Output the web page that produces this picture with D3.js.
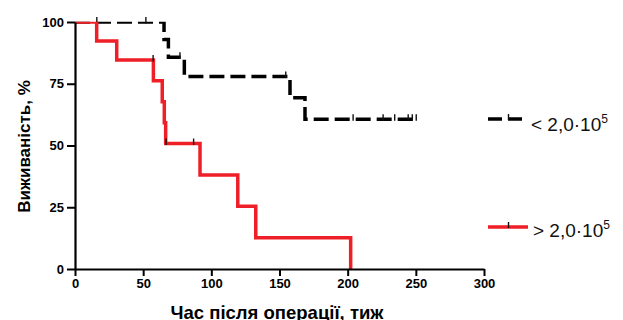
<!DOCTYPE html>
<html>
<head>
<meta charset="utf-8">
<script src="https://cdn.jsdelivr.net/npm/d3@7"></script>
<style>
  html, body { margin: 0; padding: 0; background: #fff; }
  svg { display: block; font-family: Arial, "Liberation Sans", sans-serif; }
</style>
</head>
<body>
<svg id="viz" width="623" height="320"></svg>
<script>
// Kaplan-Meier steps (weeks, % surviving)
const lowTimes = [0, 65.3, 68.5, 80.2, 157.7, 168.7, 250.5];
const lowSurv = [100, 92.9, 85.7, 77.9, 69.3, 60.6, 60.6];
const lowCensor = [16, 52, 77, 154.6, 204, 226, 234.5, 244.4, 247.4, 250.3];

const highTimes = [0, 15.9, 30.6, 57.5, 64, 65.5, 66.5, 91.7, 119.4, 132.6, 202.2];
const highSurv = [100, 92.3, 84.6, 76.2, 67.7, 59.2, 50.8, 38.1, 25.4, 12.7, 0];
const highCensor = [57.3, 66.8, 87];

const xTicks = [0, 50, 100, 150, 200, 250, 300];
const yTicks = [0, 25, 50, 75, 100];

const seriesLabels = ["< 2,0\u00b710", "> 2,0\u00b710"];
const RED = "#ee1f26";

const svg = d3.select("#viz");

const x = d3.scaleLinear().domain([0, 300]).range([75, 484]);
const y = d3.scaleLinear().domain([0, 100]).range([269, 22]);

// clip the curves at the plot top, like the original
svg.append("clipPath").attr("id", "plot")
    .append("rect")
    .attr("x", x(0)).attr("y", y(100) - 0.3)
    .attr("width", 420).attr("height", 260);

const stepLine = d3.line()
    .x(d => x(d[0]))
    .y(d => y(d[1]))
    .curve(d3.curveStepAfter);

const levelAt = (times, surv, t) => {
    let v = surv[0];
    times.forEach((tt, i) => { if (tt <= t) v = surv[i]; });
    return v;
};

const drawCurve = (times, surv, censor, color, dash) => {
    svg.append("path")
        .datum(times.map((t, i) => [t, surv[i]]))
        .attr("clip-path", "url(#plot)")
        .attr("d", stepLine)
        .attr("fill", "none")
        .attr("stroke", color)
        .attr("stroke-width", 3.5)
        .attr("stroke-dasharray", dash);

    svg.append("g").selectAll("line")
        .data(censor)
        .join("line")
        .attr("x1", d => x(d)).attr("x2", d => x(d))
        .attr("y1", d => y(levelAt(times, surv, d)) - 5)
        .attr("y2", d => y(levelAt(times, surv, d)) + 1.5)
        .attr("stroke", "#111")
        .attr("stroke-width", 1.4);
};

drawCurve(lowTimes, lowSurv, lowCensor, "#000", "15,6");
drawCurve(highTimes, highSurv, highCensor, RED, null);

// axes
const xAxis = svg.append("g")
    .attr("transform", `translate(0,${y(0)})`)
    .call(d3.axisBottom(x).tickValues(xTicks).tickSize(7).tickPadding(3).tickSizeOuter(0));
const yAxis = svg.append("g")
    .attr("transform", `translate(${x(0)},0)`)
    .call(d3.axisLeft(y).tickValues(yTicks).tickSize(8).tickPadding(3).tickSizeOuter(0));

[xAxis, yAxis].forEach(a => {
    a.select(".domain").attr("stroke", "#000").attr("stroke-width", 2.2);
    a.selectAll(".tick line").attr("stroke", "#000").attr("stroke-width", 2);
    a.selectAll(".tick text")
        .attr("fill", "#000")
        .attr("font-size", 13)
        .attr("font-weight", "bold")
        .attr("font-family", "Arial, 'Liberation Sans', sans-serif");
});

svg.append("text")
    .attr("x", 277)
    .attr("y", 318.5)
    .attr("text-anchor", "middle")
    .attr("font-size", 18.5)
    .attr("font-weight", "bold")
    .text("Час після операції, тиж");

svg.append("text")
    .attr("transform", "rotate(-90)")
    .attr("x", -146.5)
    .attr("y", 30)
    .attr("text-anchor", "middle")
    .attr("font-size", 17)
    .attr("font-weight", "bold")
    .text("Виживаність, %");

// legend
const legend = [
    { label: seriesLabels[0], color: "#000", dash: "14,6", y: 119, textY: 130.5, x2: 522, tx: 531 },
    { label: seriesLabels[1], color: RED, dash: null, y: 227, textY: 237, x2: 528, tx: 533 }
];
legend.forEach(d => {
    svg.append("line")
        .attr("x1", 488).attr("x2", d.x2)
        .attr("y1", d.y).attr("y2", d.y)
        .attr("stroke", d.color)
        .attr("stroke-width", 3.5)
        .attr("stroke-dasharray", d.dash);
    svg.append("line")
        .attr("x1", 508.5).attr("x2", 508.5)
        .attr("y1", d.y - 5).attr("y2", d.y + 1)
        .attr("stroke", "#111")
        .attr("stroke-width", 1.4);
    const t = svg.append("text")
        .attr("x", d.tx)
        .attr("y", d.textY)
        .attr("font-size", 19)
        .attr("fill", "#111");
    t.append("tspan").text(d.label);
    t.append("tspan").attr("dy", -8).attr("font-size", 12).text("5");
});
</script>
</body>
</html>
